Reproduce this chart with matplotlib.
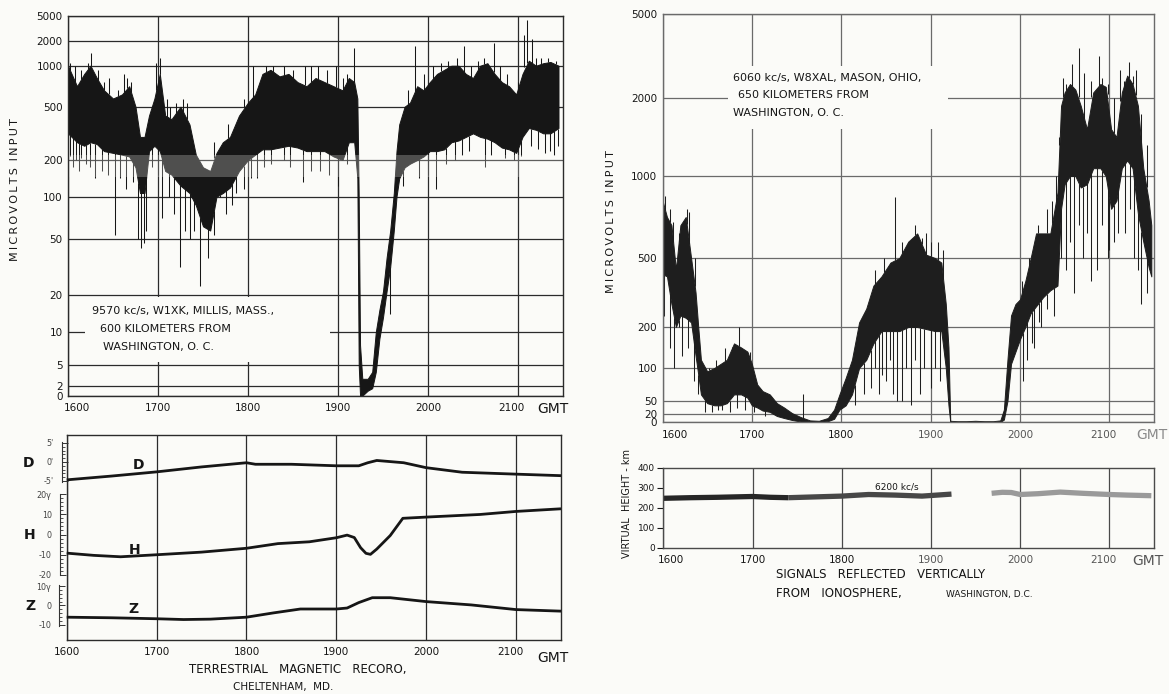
import numpy as np
import matplotlib
matplotlib.use('Agg')
import matplotlib.pyplot as plt
from matplotlib.patches import Rectangle
from matplotlib.ticker import FixedLocator
import matplotlib.transforms as mtransforms

plt.rcParams['font.family'] = ['DejaVu Sans']

W, H = 1169, 694
BG = '#fbfbf8'
INK = '#161616'
GRID = '#2b2b2b'
LGRID = '#6a6a6a'

# ------------------------------------------------------------------ data
hours = [16, 17, 18, 19, 20, 21]
hour_labels = ['1600', '1700', '1800', '1900', '2000', '2100']

# receiver calibration of the field-strength charts (value -> grid height)
mv_ticks_left = [0, 2, 5, 10, 20, 50, 100, 200, 500, 1000, 2000, 5000]
mv_grid_left = [0, 10, 30.7, 63.7, 100.7, 156.7, 199, 235.7, 289, 330, 355, 380]
mv_ticks_right = [0, 20, 50, 100, 200, 500, 1000, 2000, 5000]
mv_grid_right = [0, 8, 21, 54, 95, 164, 246, 324, 408]

# 9570 kc/s W1XK - envelope of the recorded signal (microvolts)
w1xk_t = [16.00, 16.04, 16.10, 16.18, 16.25, 16.32, 16.40, 16.50, 16.60, 16.68,
          16.75, 16.80, 16.85, 16.90, 16.96, 17.02, 17.08, 17.15, 17.25, 17.35,
          17.42, 17.50, 17.58, 17.65, 17.72, 17.80, 17.90, 18.00, 18.08, 18.16,
          18.25, 18.35, 18.45, 18.55, 18.65, 18.75, 18.85, 18.95, 19.05, 19.12,
          19.18, 19.215, 19.23, 19.245, 19.27, 19.33, 19.38, 19.42, 19.46, 19.50,
          19.54, 19.58, 19.62, 19.65, 19.68, 19.74, 19.80, 19.88, 19.95, 20.02,
          20.10, 20.18, 20.26, 20.34, 20.42, 20.50, 20.58, 20.66, 20.74, 20.82,
          20.90, 20.98, 21.05, 21.12, 21.20, 21.28, 21.36, 21.45]
w1xk_hi = [1000, 900, 750, 900, 1000, 850, 700, 600, 650, 750,
           500, 330, 330, 450, 600, 900, 450, 430, 500, 400,
           230, 180, 170, 240, 300, 330, 450, 550, 650, 900,
           950, 870, 900, 800, 750, 850, 800, 750, 700, 850,
           800, 600, 100, 8, 3, 3, 4, 10, 16, 22,
           40, 60, 110, 250, 400, 500, 550, 750, 700, 800,
           900, 950, 1000, 1000, 900, 850, 1000, 1100, 900, 800,
           750, 650, 900, 1200, 1000, 1100, 1150, 1000]
w1xk_lo = [350, 330, 300, 280, 300, 290, 250, 240, 230, 220,
           180, 110, 110, 250, 280, 250, 170, 160, 130, 110,
           90, 65, 60, 100, 110, 125, 170, 200, 230, 260,
           260, 270, 280, 270, 250, 250, 250, 220, 200, 300,
           300, 150, 5, 0, 0, 1, 1.5, 4, 9, 14,
           22, 35, 60, 100, 150, 180, 190, 200, 220, 250,
           250, 260, 300, 310, 330, 350, 330, 320, 300, 270,
           260, 240, 330, 380, 370, 350, 350, 380]
w1xk_peak_t = [16.02, 16.08, 16.15, 16.22, 16.25, 16.33, 16.40, 16.45, 16.55, 16.62,
               16.66, 16.70, 16.98, 17.02, 17.10, 17.13, 17.20, 17.28, 17.32, 17.62,
               17.78, 17.95, 18.05, 18.20, 18.28, 18.40, 18.50, 18.63, 18.70, 18.78,
               18.88, 18.98, 19.05, 19.10, 19.18, 19.78, 19.85, 19.95, 20.05, 20.15,
               20.22, 20.32, 20.40, 20.48, 20.55, 20.62, 20.73, 20.80, 20.88, 21.00,
               21.07, 21.10, 21.16, 21.20, 21.25, 21.33, 21.42]
w1xk_peak_v = [1100, 1000, 950, 1100, 1500, 950, 800, 850, 700, 900,
               850, 800, 1100, 1300, 600, 500, 550, 600, 550, 300,
               400, 600, 1000, 1000, 1000, 1000, 950, 1000, 1000, 1000,
               950, 1000, 850, 900, 1700, 700, 1800, 900, 1000, 1100,
               1200, 1300, 1800, 1000, 1200, 1300, 1900, 1000, 900, 800,
               2700, 4500, 2200, 1300, 1300, 1300, 1200]
w1xk_fade_t = [16.02, 16.05, 16.09, 16.12, 16.15, 16.20, 16.24, 16.30, 16.38, 16.44,
               16.52, 16.58, 16.65, 16.72, 16.78, 16.81, 16.84, 16.87, 16.93, 17.00,
               17.04, 17.12, 17.18, 17.24, 17.30, 17.36, 17.40, 17.47, 17.55, 17.62,
               17.69, 17.76, 17.82, 17.87, 17.95, 18.03, 18.10, 18.18, 18.25, 18.40,
               18.47, 18.61, 18.70, 18.80, 18.90, 19.00, 19.10, 19.58, 19.72, 19.90,
               20.00, 20.09, 20.20, 20.30, 20.38, 20.45, 20.63, 20.70, 20.85, 20.95,
               21.03, 21.15, 21.22, 21.30, 21.35, 21.40, 21.44]
w1xk_fade_v = [220, 180, 200, 170, 210, 190, 180, 150, 170, 160,
               55, 150, 120, 140, 50, 45, 48, 60, 180, 160,
               75, 100, 80, 35, 60, 50, 60, 25, 40, 55,
               100, 80, 90, 110, 120, 150, 150, 180, 190, 200,
               180, 140, 170, 170, 160, 130, 190, 15, 130, 150,
               160, 120, 190, 200, 230, 250, 180, 230, 210, 200,
               220, 280, 260, 240, 250, 230, 280]

# 6060 kc/s W8XAL - envelope of the recorded signal (microvolts)
w8xal_t = [16.00, 16.05, 16.10, 16.15, 16.20, 16.26, 16.32, 16.37, 16.40, 16.43,
           16.50, 16.58, 16.65, 16.72, 16.80, 16.88, 16.95, 17.00, 17.06, 17.12,
           17.20, 17.28, 17.36, 17.45, 17.55, 17.65, 17.75, 17.85, 17.92, 17.98,
           18.05, 18.12, 18.20, 18.28, 18.36, 18.45, 18.55, 18.65, 18.75, 18.85,
           18.95, 19.05, 19.12, 19.17, 19.20, 19.22, 19.30, 19.40, 19.50, 19.60,
           19.70, 19.78, 19.82, 19.86, 19.90, 19.95, 20.00, 20.06, 20.12, 20.18,
           20.26, 20.34, 20.42, 20.46, 20.50, 20.56, 20.62, 20.68, 20.75, 20.82,
           20.90, 20.96, 21.02, 21.08, 21.14, 21.20, 21.26, 21.32, 21.38, 21.44,
           21.47]
w8xal_hi = [850, 750, 700, 450, 700, 750, 500, 350, 200, 120,
            95, 100, 110, 120, 160, 150, 140, 110, 75, 65,
            60, 45, 35, 22, 12, 4, 3, 10, 30, 60,
            85, 120, 220, 280, 380, 420, 480, 500, 600, 650,
            520, 500, 480, 300, 150, 3, 2, 2, 3, 2,
            2, 4, 30, 120, 250, 300, 320, 400, 500, 650,
            650, 650, 900, 1900, 2200, 2500, 2300, 1900, 1600, 2200,
            2500, 2400, 1600, 1500, 2200, 2800, 2500, 1900, 1100, 850,
            700]
w8xal_lo = [430, 420, 300, 200, 250, 240, 220, 130, 90, 60,
            45, 40, 40, 45, 60, 60, 55, 40, 35, 28,
            25, 15, 10, 5, 1, 0, 0, 2, 8, 30,
            40, 60, 100, 120, 160, 190, 190, 190, 200, 200,
            195, 190, 190, 100, 40, 0, 0, 0, 0, 0,
            0, 0, 6, 50, 110, 140, 170, 200, 260, 290,
            330, 360, 380, 800, 950, 1000, 1000, 930, 950, 1100,
            1100, 1000, 800, 850, 1100, 1200, 1100, 770, 600, 460,
            420]
w8xal_peak_t = [16.03, 16.08, 16.12, 16.18, 16.27, 16.30, 16.36, 16.52, 16.60, 16.70,
                16.78, 16.86, 16.98, 17.57, 18.38, 18.48, 18.60, 18.68, 18.72, 18.83,
                18.90, 18.95, 19.00, 19.08, 19.14, 20.02, 20.10, 20.20, 20.30, 20.36,
                20.40, 20.44, 20.48, 20.52, 20.58, 20.66, 20.72, 20.80, 20.88, 20.92,
                20.98, 21.05, 21.12, 21.16, 21.22, 21.26, 21.30, 21.36, 21.42]
w8xal_peak_v = [880, 800, 720, 650, 800, 780, 500, 100, 120, 150,
                140, 200, 140, 60, 450, 500, 870, 600, 550, 700,
                620, 650, 600, 600, 550, 400, 500, 700, 800, 850,
                1000, 1500, 2700, 2500, 3200, 3800, 2900, 2600, 3500, 2700,
                2500, 2000, 3000, 2600, 3300, 2800, 3000, 1800, 1400]
w8xal_fade_t = [16.02, 16.08, 16.13, 16.18, 16.22, 16.28, 16.35, 16.40, 16.47, 16.55,
                16.62, 16.67, 16.75, 16.83, 16.92, 17.02, 17.15, 18.15, 18.25, 18.33,
                18.38, 18.42, 18.46, 18.50, 18.55, 18.58, 18.62, 18.68, 18.73, 18.78,
                18.82, 18.88, 18.93, 19.00, 19.05, 19.10, 20.03, 20.08, 20.13, 20.16,
                20.21, 20.24, 20.30, 20.38, 20.46, 20.52, 20.56, 20.60, 20.66, 20.70,
                20.75, 20.80, 20.86, 20.92, 20.98, 21.00, 21.05, 21.10, 21.18, 21.23,
                21.28, 21.32, 21.36, 21.42]
w8xal_fade_v = [250, 150, 100, 200, 130, 150, 80, 60, 25, 25,
                30, 30, 25, 35, 30, 25, 15, 40, 60, 70,
                100, 60, 90, 80, 120, 60, 50, 50, 100, 40,
                120, 60, 100, 70, 100, 80, 80, 120, 160, 150,
                220, 200, 280, 250, 500, 450, 600, 350, 700, 500,
                650, 400, 450, 700, 500, 550, 600, 650, 650, 800,
                500, 450, 300, 350]

# Terrestrial magnetic record, Cheltenham
D_t = [16.0, 16.5, 17.0, 17.5, 18.0, 18.1, 18.5, 19.0, 19.25, 19.35, 19.45, 19.55,
       19.7, 19.75, 20.0, 20.4, 21.0, 21.5]
D_val = [-4.7, -3.7, -2.6, -1.3, -0.2, -0.6, -0.6, -1.0, -1.0, -0.2, 0.4, 0.2,
         -0.1, -0.2, -1.5, -2.7, -3.2, -3.6]
H_t = [16.0, 16.3, 16.6, 17.0, 17.5, 18.0, 18.35, 18.7, 19.0, 19.12, 19.2, 19.27,
       19.33, 19.38, 19.45, 19.6, 19.74, 20.0, 20.6, 21.0, 21.5]
H_val = [-9.2, -10.3, -11.0, -10.0, -8.7, -6.8, -4.5, -3.6, -1.6, -0.3, -1.5, -6.5,
         -9.3, -9.8, -7.2, -0.5, 8.0, 8.6, 9.9, 11.4, 12.7]
Z_t = [16.0, 16.5, 17.0, 17.3, 17.6, 18.0, 18.3, 18.6, 19.0, 19.12, 19.25, 19.4,
       19.6, 20.0, 20.5, 21.0, 21.5]
Z_val = [-6.0, -6.3, -6.8, -7.2, -7.0, -6.0, -3.8, -1.8, -1.8, -1.3, 1.5, 4.0,
         4.0, 2.0, 0.3, -2.1, -2.9]

# Virtual height of the ionosphere, 6200 kc/s (km)
vh_a_t = [16.0, 16.3, 16.6, 17.0, 17.2, 17.4]
vh_a = [247, 250, 252, 256, 252, 250]
vh_b_t = [17.4, 17.7, 18.0, 18.3, 18.6, 18.9, 19.1, 19.23]
vh_b = [250, 254, 258, 266, 263, 258, 264, 268]
vh_c_t = [19.68, 19.8, 19.9, 20.0, 20.2, 20.45, 20.7, 21.0, 21.2, 21.47]
vh_c = [272, 277, 276, 266, 270, 278, 272, 266, 263, 260]

# ------------------------------------------------------------------ helpers
fig = plt.figure(figsize=(W / 100, H / 100), dpi=100)
fig.patch.set_facecolor(BG)


def px_axes(l, t, r, b, **kw):
    return fig.add_axes([l / W, 1 - b / H, (r - l) / W, (b - t) / H], **kw)


def ftext(x, y, s, **kw):
    kw.setdefault('color', INK)
    kw.setdefault('va', 'center')
    kw.setdefault('zorder', 3)
    return fig.text(x / W, 1 - y / H, s, **kw)


def blank(x0, y0, x1, y1):
    fig.add_artist(Rectangle((x0 / W, 1 - y1 / H), (x1 - x0) / W, (y1 - y0) / H,
                             transform=fig.transFigure, facecolor=BG,
                             edgecolor='none', zorder=2))


def make_scale(vals, pos):
    v = np.asarray(vals, float)
    p = np.asarray(pos, float)
    return (lambda x: np.interp(x, v, p), lambda y: np.interp(y, p, v))


def spaced(word_list):
    return '\u2009\u2009\u2009'.join('\u2009'.join(w) for w in word_list)


def shift_labels(ax, offsets):
    labs = ax.get_xticklabels()
    for i, dx in offsets.items():
        off = mtransforms.ScaledTranslation(dx / 100, 0, fig.dpi_scale_trans)
        labs[i].set_transform(labs[i].get_transform() + off)


def signal_panel(ax, ticks, grid, gridcol, t, hi, lo, pk_t, pk_v, fd_t, fd_v, col):
    fwd, inv = make_scale(ticks, grid)
    ax.set_facecolor(BG)
    ax.set_yscale('function', functions=(fwd, inv))
    ax.set_xlim(16, 21.5)
    ax.set_ylim(0, 5000)
    ax.set_yticks(ticks, [str(v) for v in ticks])
    ax.set_xticks(hours, hour_labels)
    ax.tick_params(axis='both', length=0, labelsize=7.5, colors=INK)
    ax.tick_params(axis='y', pad=4)
    ax.tick_params(axis='x', pad=5)
    ax.grid(True, color=gridcol, lw=0.9)
    ax.set_axisbelow(True)
    for s in ax.spines.values():
        s.set_color(gridcol)
        s.set_linewidth(1.0)
    ax.fill_between(t, lo, hi, color=col, lw=0.7, zorder=2)
    base_hi = np.interp(pk_t, t, hi)
    ax.vlines(pk_t, base_hi, pk_v, color=col, lw=0.75, zorder=2)
    base_lo = np.interp(fd_t, t, lo)
    ax.vlines(fd_t, fd_v, base_lo, color=col, lw=0.75, zorder=2)


# ------------------------------------------------------------------ top left
ax1 = px_axes(68, 15.7, 563, 395.7)
signal_panel(ax1, mv_ticks_left, mv_grid_left, GRID, w1xk_t, w1xk_hi, w1xk_lo,
             w1xk_peak_t, w1xk_peak_v, w1xk_fade_t, w1xk_fade_v, INK)
ax1.axhspan(155, 230, color=BG, alpha=0.25, lw=0, zorder=2.5)
shift_labels(ax1, {0: 9, 5: -7})
ftext(15, 190, spaced(['MICROVOLTS', 'INPUT']), rotation=90, ha='center', fontsize=8)
ftext(553, 409, 'GMT', ha='center', fontsize=10)
blank(85, 297, 330, 362)
ftext(92, 311, '9570 kc/s, W1XK, MILLIS, MASS.,', ha='left', fontsize=8)
ftext(100, 329, '600 KILOMETERS FROM', ha='left', fontsize=8)
ftext(103, 347, 'WASHINGTON, O. C.', ha='left', fontsize=8)

# ------------------------------------------------------------------ top right
ax2 = px_axes(662.5, 14, 1154, 422)
signal_panel(ax2, mv_ticks_right, mv_grid_right, LGRID, w8xal_t, w8xal_hi, w8xal_lo,
             w8xal_peak_t, w8xal_peak_v, w8xal_fade_t, w8xal_fade_v, '#1e1e1e')
ax2.tick_params(axis='x', pad=6)
shift_labels(ax2, {0: 12, 5: -6})
for lab in ax2.get_xticklabels()[3:]:
    lab.set_color('#555555')
ftext(611, 222, spaced(['MICROVOLTS', 'INPUT']), rotation=90, ha='center', fontsize=8)
ftext(1152, 435, 'GMT', ha='center', fontsize=10, color='#8a8a8a')
blank(728, 66, 948, 129)
ftext(733, 78, '6060 kc/s, W8XAL, MASON, OHIO,', ha='left', fontsize=8)
ftext(738, 95, '650 KILOMETERS FROM', ha='left', fontsize=8)
ftext(733, 113, 'WASHINGTON, O. C.', ha='left', fontsize=8)

# ------------------------------------------------------------------ bottom left (magnetic)
axm = px_axes(66.7, 435, 561, 640)
axm.set_facecolor(BG)
axm.set_xlim(16, 21.5)
axm.set_ylim(0, 1)
axm.set_yticks([])
axm.set_xticks(hours, hour_labels)
axm.tick_params(axis='x', length=0, labelsize=7.5, pad=5, colors=INK)
axm.grid(axis='x', color=GRID, lw=0.9)
for s in axm.spines.values():
    s.set_color(GRID)
    s.set_linewidth(1.0)
shift_labels(axm, {0: 0, 5: -6})

components = [
    # top, bottom, ylim, major ticks, labels, ruler bounds, minor step, offset, t, v
    (435, 490, (-7.37, 7.1), [-5, 0, 5], ["-5'", "0'", "5'"], (-5.3, 5.2), 1, 3.6, D_t, D_val),
    (490, 580, (-22.47, 21.98), [-20, -10, 0, 10, 20], ['-20', '-10', '0', '10', '20γ'], (-20, 20), 2, 4.8, H_t, H_val),
    (580, 640, (-17.7, 13.08), [-10, 0, 10], ['-10', '0', '10γ'], (-10.5, 10.5), 2, 5.3, Z_t, Z_val),
]
for top, bot, ylim, major, labels, bounds, step, off, t, v in components:
    a = px_axes(66.7, top, 561, bot, facecolor='none')
    a.set_xlim(16, 21.5)
    a.set_ylim(*ylim)
    for k in ('top', 'right', 'bottom'):
        a.spines[k].set_visible(False)
    a.spines['left'].set_position(('outward', off))
    a.spines['left'].set_bounds(*bounds)
    a.spines['left'].set_linewidth(0.8)
    a.spines['left'].set_color('#333333')
    a.set_xticks([])
    a.set_yticks(major, labels)
    a.yaxis.set_minor_locator(FixedLocator(np.arange(bounds[0] + 0.3, bounds[1], step).round()))
    a.tick_params(axis='y', which='major', direction='in', length=4, width=0.7,
                  labelsize=5.8, pad=6, labelcolor='#444444', color='#333333')
    a.tick_params(axis='y', which='minor', direction='in', length=2, width=0.6, color='#333333')
    a.plot(t, v, color=INK, lw=2.0, solid_capstyle='butt', clip_on=False)

for name, x, y in [('D', 28, 463), ('H', 30, 535), ('Z', 30, 606)]:
    ftext(x, y, name, ha='center', fontsize=10, fontweight='bold')
for name, x, y in [('D', 138, 465), ('H', 135, 550), ('Z', 133, 609)]:
    ftext(x, y, name, ha='center', fontsize=10, fontweight='bold')
ftext(553, 658, 'GMT', ha='center', fontsize=10)
ftext(298, 669, 'TERRESTRIAL   MAGNETIC   RECORO,', ha='center', fontsize=8.5)
ftext(283, 687, 'CHELTENHAM,  MD.', ha='center', fontsize=7.5)

# ------------------------------------------------------------------ bottom right (virtual height)
ax4 = px_axes(663.3, 467.7, 1154, 547.7)
ax4.set_facecolor(BG)
ax4.set_xlim(16, 21.5)
ax4.set_ylim(0, 400)
ax4.set_yticks([0, 100, 200, 300, 400], ['0', '100', '200', '300', '400'])
ax4.set_xticks(hours, hour_labels)
ax4.tick_params(axis='y', length=4, width=0.8, direction='out', labelsize=6.5, pad=2, colors=INK)
ax4.tick_params(axis='x', length=0, labelsize=7.5, pad=5, colors=INK)
for lab in ax4.get_xticklabels()[3:]:
    lab.set_color('#555555')
ax4.grid(axis='x', color='#4a4a4a', lw=0.9)
for s in ax4.spines.values():
    s.set_color('#4a4a4a')
    s.set_linewidth(1.0)
shift_labels(ax4, {0: 8, 5: -6})
ax4.plot(vh_a_t, vh_a, color='#262626', lw=3.8, solid_capstyle='butt')
ax4.plot(vh_b_t, vh_b, color='#474747', lw=3.8, solid_capstyle='butt')
ax4.plot(vh_c_t, vh_c, color='#9a9a9a', lw=3.8, solid_capstyle='butt')
ftext(897, 487, '6200 kc/s', ha='center', fontsize=6.5)
ftext(627, 503, 'VIRTUAL  HEIGHT - km', rotation=90, ha='center', fontsize=7)
ftext(1148, 561, 'GMT', ha='center', fontsize=10, color='#555555')
ftext(776, 575, 'SIGNALS   REFLECTED   VERTICALLY', ha='left', fontsize=8.5)
ftext(776, 594, 'FROM   IONOSPHERE,', ha='left', fontsize=8.5)
ftext(946, 594, 'WASHINGTON, D.C.', ha='left', fontsize=6.5)

fig.savefig('out.png', dpi=100, facecolor=BG)
